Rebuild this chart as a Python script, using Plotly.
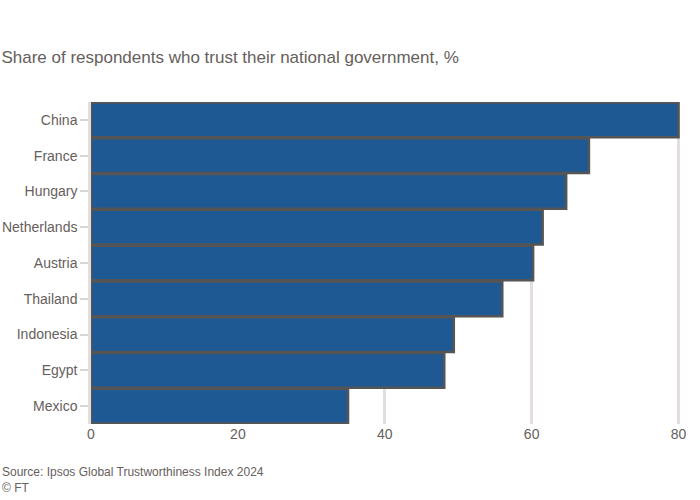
import plotly.graph_objects as go

categories = ["China", "France", "Hungary", "Netherlands", "Austria",
              "Thailand", "Indonesia", "Egypt", "Mexico"]
values = [80.0, 67.8, 64.7, 61.5, 60.2, 56.0, 49.4, 48.1, 35.0]
tick_vals = [0, 20, 40, 60, 80]
tick_text = ["0", "20", "40", "60", "80"]

title_text = "Share of respondents who trust their national government, %"
source_text = "Source: Ipsos Global Trustworthiness Index 2024<br>© FT"

grey = "#66605c"
fig = go.Figure(go.Bar(
    y=categories, x=values, orientation="h",
    marker=dict(color="#1f5993", line=dict(color="#555555", width=2.5)),
))

fig.update_layout(
    width=700, height=500,
    paper_bgcolor="white", plot_bgcolor="white",
    margin=dict(l=91, r=20, t=102, b=76, autoexpand=False),
    bargap=0.03,
    showlegend=False,
    font=dict(family="Liberation Sans, Arial, sans-serif", color=grey, size=14),
    title=dict(text=title_text, x=0.002, xanchor="left", y=0.885, yanchor="middle",
               font=dict(size=17, color=grey)),
    annotations=[dict(text=source_text, xref="paper", yref="paper",
                      x=-91 / 589, y=-0.12, xanchor="left", yanchor="top",
                      align="left", showarrow=False,
                      font=dict(size=12, color=grey))],
)
fig.update_xaxes(range=[0, 80.2], tickvals=tick_vals, ticktext=tick_text,
                 showgrid=True, gridcolor="#e3dedb", gridwidth=2.5,
                 zeroline=False, showline=False, ticks="", automargin=False,
                 tickfont=dict(size=14, color=grey), fixedrange=True)
fig.update_yaxes(autorange="reversed", ticks="outside", ticklen=8,
                 tickcolor="#d9d5d2", tickwidth=2, showgrid=False,
                 showline=True, linecolor="#e3dedb", linewidth=2.5,
                 automargin=False,
                 tickfont=dict(size=14, color=grey))

fig.write_html("out.html")
